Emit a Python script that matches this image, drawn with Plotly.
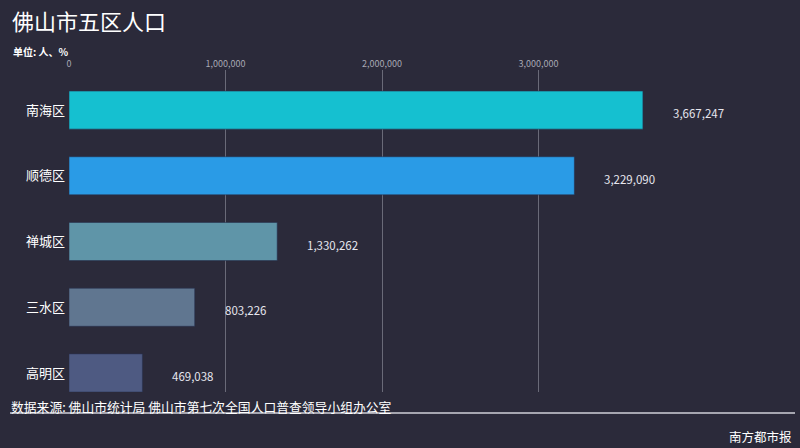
import plotly.graph_objects as go

districts = ["南海区", "顺德区", "禅城区", "三水区", "高明区"]
population = [3667247, 3229090, 1330262, 803226, 469038]
bar_colors = ["#15c0d0", "#2a9be6", "#5f95a8", "#607690", "#4e5a82"]
tick_vals = [0, 1000000, 2000000, 3000000]
tick_text = ["0", "1,000,000", "2,000,000", "3,000,000"]

bg = "#2b2a3a"
font_family = "Noto Sans CJK SC, Noto Sans, sans-serif"

L, T, B, R = 69, 70, 392, 790
W, H = R - L, B - T


def px_x(x):
    return (x - L) / W


def px_y(y):
    return (B - y) / H


fig = go.Figure()
fig.add_trace(go.Bar(
    x=population, y=districts, orientation="h",
    marker=dict(color=bar_colors, line=dict(color="rgba(40,50,80,0.6)", width=1)),
    width=0.58, hoverinfo="skip",
))

for d, v in zip(districts, population):
    fig.add_annotation(x=v, y=d, text=f"{v:,}", showarrow=False,
                       xanchor="left", xshift=28, yshift=-3,
                       font=dict(size=11.5, color="#e6e6ee", family=font_family))

fig.update_layout(
    width=800, height=448,
    paper_bgcolor=bg, plot_bgcolor=bg,
    margin=dict(l=L, r=800 - R, t=T, b=448 - B),
    showlegend=False,
    font=dict(family=font_family, color="#ffffff"),
    xaxis=dict(side="top", range=[0, 4607000], tickvals=tick_vals, ticktext=tick_text,
               showgrid=True, gridcolor="#6a6a78", gridwidth=1, zeroline=False,
               tickfont=dict(size=9, color="#a8a8b4"), ticks="", ticklen=0,
               showline=False, fixedrange=True),
    yaxis=dict(type="category", range=[4.29, -0.61], showgrid=False, zeroline=False,
               tickfont=dict(size=13, color="#ffffff"), ticks="", ticklabelstandoff=3,
               showline=False, fixedrange=True),
)

fig.add_shape(type="line", xref="paper", yref="paper",
              x0=px_x(10), x1=px_x(795), y0=px_y(413), y1=px_y(413),
              line=dict(color="#d0d0d8", width=1.5))

fig.add_annotation(xref="paper", yref="paper", x=px_x(10), y=px_y(20),
                   text="佛山市五区人口", showarrow=False, xanchor="left", yanchor="middle",
                   font=dict(size=22, color="#ffffff", family=font_family))
fig.add_annotation(xref="paper", yref="paper", x=px_x(11), y=px_y(51),
                   text="<b>单位: 人、%</b>", showarrow=False, xanchor="left", yanchor="middle",
                   font=dict(size=10, color="#ffffff", family=font_family))
fig.add_annotation(xref="paper", yref="paper", x=px_x(9), y=px_y(406),
                   text="数据来源: 佛山市统计局 佛山市第七次全国人口普查领导小组办公室",
                   showarrow=False, xanchor="left", yanchor="middle",
                   font=dict(size=12.8, color="#ffffff", family=font_family))
fig.add_annotation(xref="paper", yref="paper", x=px_x(794), y=px_y(436),
                   text="南方都市报", showarrow=False, xanchor="right", yanchor="middle",
                   font=dict(size=12.5, color="#ffffff", family=font_family))

fig.write_html("out.html", config={"displayModeBar": False})

with open("out.html", "r", encoding="utf-8") as f:
    html = f.read()
html = html.replace("<body>", '<body style="margin:0;padding:0;overflow:hidden;">', 1)
with open("out.html", "w", encoding="utf-8") as f:
    f.write(html)
